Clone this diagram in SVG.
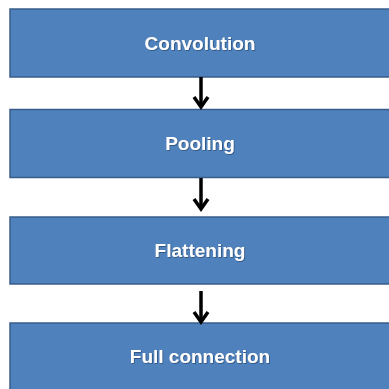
<svg xmlns="http://www.w3.org/2000/svg" width="389" height="389" viewBox="0 0 389 389">
<style>
.box{fill:#4F81BD;stroke:#385D8A;stroke-width:1.5}
.lbl{font-family:"Liberation Sans",Arial,sans-serif;font-weight:bold;font-size:19px;fill:#FFFFFF;text-anchor:middle;filter:url(#sh)}
.conn{stroke:#000;stroke-width:3.5;fill:none}
.head{stroke:#000;stroke-width:3.5;fill:none;stroke-linecap:butt}
</style>
<defs>
<filter id="sh" x="-10%" y="-30%" width="120%" height="160%">
<feDropShadow dx="0.8" dy="0.8" stdDeviation="0.6" flood-color="#1F3A5F" flood-opacity="0.7"/>
</filter>
</defs>
<g id="convolution"><rect class="box" x="10" y="9" width="385" height="68"/><text class="lbl" x="200" y="50">Convolution</text></g>
<g id="pooling"><rect class="box" x="10" y="109.5" width="385" height="68"/><text class="lbl" x="200" y="150">Pooling</text></g>
<g id="flattening"><rect class="box" x="10" y="217" width="385" height="67"/><text class="lbl" x="200" y="257">Flattening</text></g>
<g id="full-connection"><rect class="box" x="10" y="323" width="385" height="70"/><text class="lbl" x="200" y="363">Full connection</text></g>
<g id="connectors">
<line class="conn" x1="201" y1="77" x2="201" y2="107"/><polyline class="head" points="194,97 201,107 208,97"/>
<line class="conn" x1="201" y1="178" x2="201" y2="209"/><polyline class="head" points="194,199 201,209 208,199"/>
<line class="conn" x1="201" y1="291" x2="201" y2="322"/><polyline class="head" points="194,312 201,322 208,312"/>
</g>
</svg>
